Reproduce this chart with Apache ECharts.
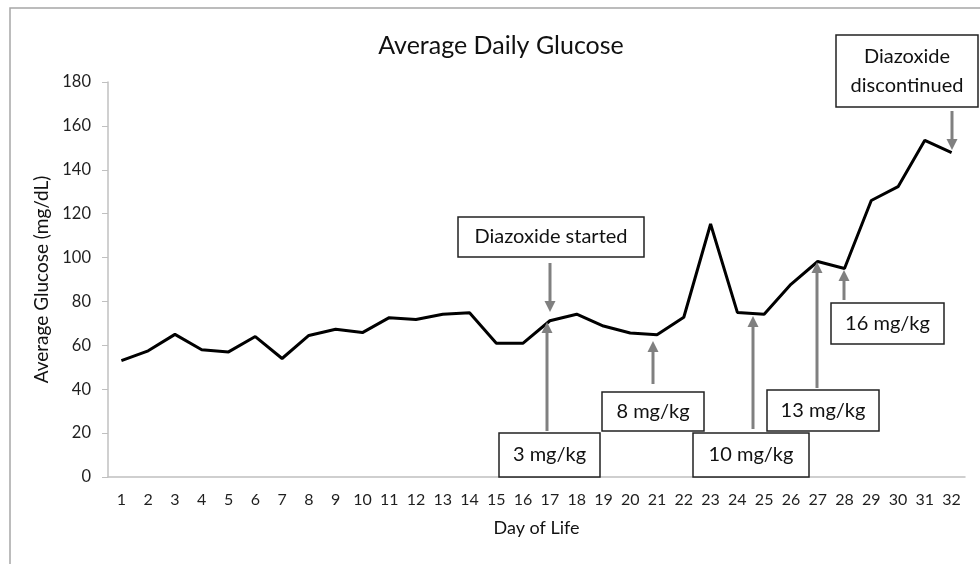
<!DOCTYPE html>
<html>
<head>
<meta charset="utf-8">
<script src="https://cdn.jsdelivr.net/npm/echarts@6/dist/echarts.min.js"></script>
<style>
html,body{margin:0;padding:0;background:#fff;}
#chart{width:980px;height:564px;}
</style>
</head>
<body>
<div id="chart"></div>
<script>
// ---- data ----
var days = ['1','2','3','4','5','6','7','8','9','10','11','12','13','14','15','16','17','18','19','20','21','22','23','24','25','26','27','28','29','30','31','32'];
var glucose = [53, 57.5, 65, 58, 57, 64, 54, 64.5, 67.3, 65.8, 72.6, 71.8, 74.2, 74.9, 61, 61, 71.2, 74.2, 68.8, 65.6, 64.8, 72.8, 115.3, 75, 74.2, 87.8, 98.2, 95, 126, 132.3, 153.4, 147.8];
var yTicks = [0, 20, 40, 60, 80, 100, 120, 140, 160, 180];

// annotation boxes and arrows (layout, pixels)
var notes = [
  {text:'Diazoxide started', box:[458,217,186,40], arrow:[550,263,550,312]},
  {text:'3 mg/kg', box:[499,433,101,44], arrow:[547,431,547,322]},
  {text:'8 mg/kg', box:[602,392,102,39], arrow:[653,384,653,341]},
  {text:'10 mg/kg', box:[693,433,116,44], arrow:[753,429,753,316]},
  {text:'13 mg/kg', box:[767,390,112,41], arrow:[817,388,817,262]},
  {text:'16 mg/kg', box:[831,303,113,41], arrow:[844,300,844,270]},
  {text:'Diazoxide\ndiscontinued', box:[836,35,142,72], arrow:[952,111,952,150]}
];

var FONT = 'Lato';
var graphics = [];
graphics.push({type:'rect', shape:{x:10,y:8,width:1000,height:600}, style:{fill:null, stroke:'#a6a6a6', lineWidth:1.5}, silent:true, z:0});
notes.forEach(function(n){
  var a = n.arrow;
  var dir = a[3] > a[1] ? 1 : -1;
  var head = 11, hw = 5.5;
  graphics.push({type:'line', shape:{x1:a[0],y1:a[1],x2:a[2],y2:a[3]-dir*head}, style:{stroke:'#808080', lineWidth:3}, z:100});
  graphics.push({type:'polygon', shape:{points:[[a[2],a[3]],[a[2]-hw,a[3]-dir*head],[a[2]+hw,a[3]-dir*head]]}, style:{fill:'#808080'}, z:100});
  var b = n.box;
  graphics.push({type:'rect', shape:{x:b[0],y:b[1],width:b[2],height:b[3]}, style:{fill:'#fff', stroke:'#222', lineWidth:1.5}, z:101});
  graphics.push({type:'text', x:b[0]+b[2]/2, y:b[1]+b[3]/2, style:{text:n.text, fill:'#111', font:'20px ' + FONT, align:'center', verticalAlign:'middle', lineHeight:29}, z:102});
});

var chart = echarts.init(document.getElementById('chart'), null, {renderer:'canvas'});
chart.setOption({
  animation:false,
  backgroundColor:'#fff',
  title:{text:'Average Daily Glucose', left:496, textAlign:'center', top:28, textStyle:{fontFamily:FONT, fontSize:25, fontWeight:'normal', color:'#111'}},
  grid:{left:108, right:15, top:82, bottom:87},
  xAxis:{
    type:'category', data:days, boundaryGap:true,
    name:'Day of Life', nameLocation:'middle', nameGap:42,
    nameTextStyle:{fontFamily:FONT, fontSize:18, color:'#111'},
    axisLine:{lineStyle:{color:'#c0c0c0', width:1.5}},
    axisTick:{show:false},
    axisLabel:{fontFamily:FONT, fontSize:16, color:'#1f1f1f', margin:15, interval:0}
  },
  yAxis:{
    type:'value', min:0, max:180, interval:20,
    name:'Average Glucose (mg/dL)', nameLocation:'middle', nameGap:49, nameRotate:90,
    nameTextStyle:{fontFamily:FONT, fontSize:19, color:'#111'},
    axisLine:{show:true, lineStyle:{color:'#c0c0c0', width:1.5}},
    axisTick:{show:true, length:6, lineStyle:{color:'#c0c0c0'}},
    splitLine:{show:false},
    axisLabel:{fontFamily:FONT, fontSize:16.5, color:'#1f1f1f', margin:17,
      formatter:function(v){ return yTicks.indexOf(v) >= 0 ? String(v) : ''; }}
  },
  series:[{
    type:'line', data:glucose, showSymbol:false, symbol:'none',
    lineStyle:{color:'#000', width:3}, z:10
  }],
  graphic:graphics
});
</script>
</body>
</html>
